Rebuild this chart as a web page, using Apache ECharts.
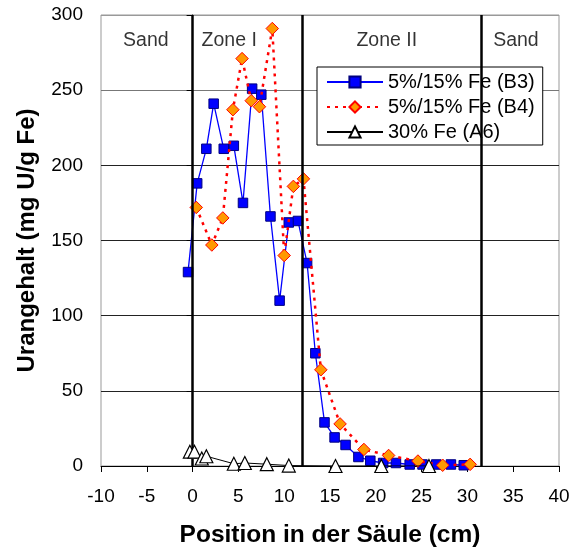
<!DOCTYPE html>
<html>
<head>
<meta charset="utf-8">
<script src="https://cdn.jsdelivr.net/npm/echarts@6/dist/echarts.min.js"></script>
<style>
html,body{margin:0;padding:0;background:#fff;}
#chart{width:572px;height:550px;}
</style>
</head>
<body>
<div id="chart"></div>
<script>
// ---- data ----
var b3X = [-0.5, 0.5, 1.5, 2.3, 3.4, 4.5, 5.5, 6.5, 7.5, 8.5, 9.5, 10.5, 11.5, 12.5, 13.4, 14.4, 15.5, 16.7, 18.1, 19.4, 20.8, 22.2, 23.7, 25.1, 26.6, 28.2, 29.6];
var b3Y = [129, 188, 211, 241, 211, 213, 175, 251, 247, 166, 110, 162, 163, 135, 75, 29, 19, 14, 6, 3.5, 2, 2, 1, 1, 1, 1, 0.5];
var b4X = [0.4, 2.1, 3.3, 4.4, 5.4, 6.4, 7.3, 8.7, 10.0, 11.0, 12.1, 14.0, 16.1, 18.7, 21.4, 24.6, 27.3, 30.3];
var b4Y = [172, 147, 165, 237, 271, 243, 239, 291, 140, 186, 191, 64, 28, 11, 7, 3.3, 0.5, 1.1];
var a6X = [-0.3, 0.2, 1.0, 1.5, 4.5, 5.7, 8.1, 10.5, 15.6, 20.6, 25.8];
var a6Y = [9.5, 9.5, 5, 6.5, 1.5, 2, 1.2, 0.3, 0, 0, 0];
var seriesNames = ['5%/15% Fe (B3)', '5%/15% Fe (B4)', '30% Fe (A6)'];
var zoneBounds = [0, 12, 31.5];
var zoneNames = ['Sand', 'Zone I', 'Zone II', 'Sand'];
var zoneLabelX = [-5.1, 4.0, 21.2, 35.3];
var zoneLabelY = 283;
var xTicks = [-10, -5, 0, 5, 10, 15, 20, 25, 30, 35, 40];
var yTicks = [0, 50, 100, 150, 200, 250, 300];

function pairs(xs, ys) { return xs.map(function (x, i) { return [x, ys[i]]; }); }

var FONT = 'Liberation Sans, Arial, sans-serif';
var chart = echarts.init(document.getElementById('chart'), null, {renderer: 'canvas'});
var option = {
  animation: false,
  backgroundColor: '#fff',
  grid: {left: 101, right: 13, top: 15, bottom: 84, outerBoundsMode: 'none', containLabel: false,
         show: true, borderColor: '#999', borderWidth: 1, backgroundColor: 'transparent'},
  legend: {
    data: seriesNames,
    left: 317, top: 67,
    orient: 'vertical',
    backgroundColor: '#fff',
    borderColor: '#000', borderWidth: 1,
    padding: [5, 8, 3, 9],
    itemGap: 5,
    itemWidth: 56, itemHeight: 14,
    textStyle: {fontFamily: FONT, fontSize: 20, color: '#000', lineHeight: 20, padding: [0, 0, 0, 0]}
  },
  xAxis: {
    type: 'value', min: xTicks[0], max: xTicks[xTicks.length - 1], interval: 5,
    name: 'Position in der Säule (cm)', nameLocation: 'middle', nameGap: 57,
    nameTextStyle: {fontFamily: FONT, fontSize: 24.5, fontWeight: 'bold', color: '#000'},
    axisLine: {onZero: false, lineStyle: {color: '#000', width: 1}},
    axisTick: {show: true, length: 6, lineStyle: {color: '#000'}},
    axisLabel: {fontFamily: FONT, fontSize: 19, color: '#000', margin: 21},
    splitLine: {show: false}
  },
  yAxis: {
    type: 'value', min: yTicks[0], max: yTicks[yTicks.length - 1], interval: 50,
    name: 'Urangehalt (mg U/g Fe)', nameLocation: 'middle', nameGap: 62, nameRotate: 90,
    nameTextStyle: {fontFamily: FONT, fontSize: 24, fontWeight: 'bold', color: '#000'},
    axisLine: {show: true, lineStyle: {color: '#000', width: 1}},
    axisTick: {show: true, length: 6, lineStyle: {color: '#000'}},
    axisLabel: {fontFamily: FONT, fontSize: 19, color: '#000', margin: 18},
    splitLine: {show: true, lineStyle: {color: ['#000', '#222', '#222', '#222', '#222', '#777', '#999'], width: 1}}
  },
  series: [
    {
      name: 'zones', type: 'line', data: [], z: 1, silent: true,
      markLine: {
        silent: true, symbol: ['none', 'none'], label: {show: false},
        lineStyle: {color: '#000', width: 2.5, type: 'solid'},
        data: zoneBounds.map(function (b) { return {xAxis: b}; })
      }
    },
    {
      name: 'zoneLabels', type: 'scatter', z: 1, silent: true, symbolSize: 0,
      data: zoneNames.map(function (n, i) { return {name: n, value: [zoneLabelX[i], zoneLabelY]}; }),
      label: {show: true, position: 'inside', formatter: '{b}', fontFamily: FONT, fontSize: 19.5, color: '#000'}
    },
    {
      name: seriesNames[0], type: 'line', z: 3, data: pairs(b3X, b3Y),
      symbol: 'rect', symbolSize: 9.5, showAllSymbol: true,
      lineStyle: {color: '#0000FF', width: 1.3},
      itemStyle: {color: '#0000FF', borderColor: '#000080', borderWidth: 1}
    },
    {
      name: seriesNames[1], type: 'line', z: 4, data: pairs(b4X, b4Y),
      symbol: 'diamond', symbolSize: 12.5, showAllSymbol: true,
      lineStyle: {color: '#FF0000', width: 2.5, type: [3, 5]},
      itemStyle: {color: '#FF9900', borderColor: '#FF0000', borderWidth: 1}
    },
    {
      name: seriesNames[2], type: 'line', z: 5, data: pairs(a6X, a6Y),
      symbol: 'triangle', symbolSize: 13, showAllSymbol: true,
      lineStyle: {color: '#000', width: 1},
      itemStyle: {color: '#fff', borderColor: '#000', borderWidth: 1.2}
    }
  ]
};
chart.setOption(option);
</script>
</body>
</html>
